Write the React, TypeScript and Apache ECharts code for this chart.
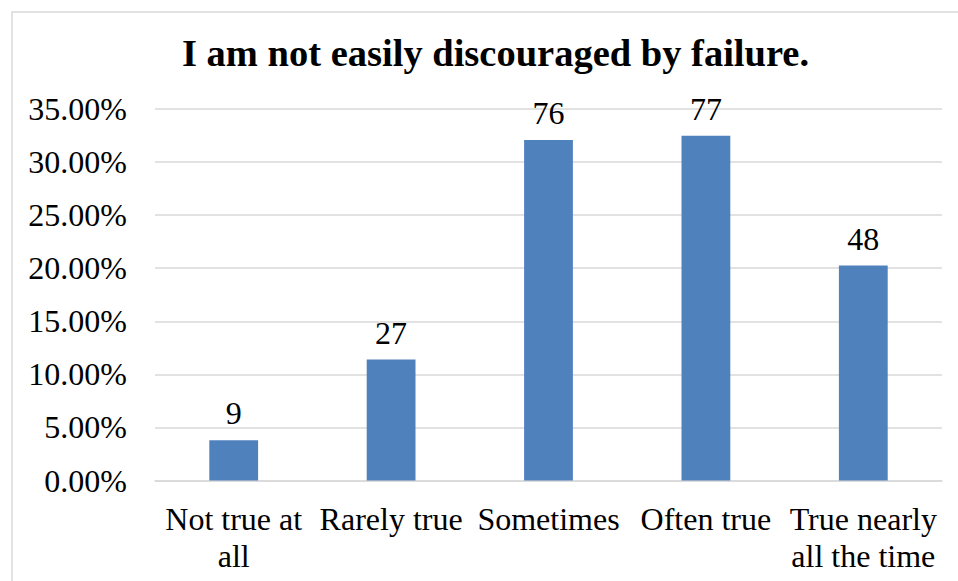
import React, { useEffect, useRef } from "react";
import * as echarts from "echarts";

const title = "I am not easily discouraged by failure.";
const categories = ["Not true at all", "Rarely true", "Sometimes", "Often true", "True nearly all the time"];
const tickLabels = ["Not true at\nall", "Rarely true", "Sometimes", "Often true", "True nearly\nall the time"];
const counts = [9, 27, 76, 77, 48];
const percents = [3.8, 11.39, 32.07, 32.49, 20.25];

const FONT = '"Liberation Serif", "Times New Roman", serif';

export default function App() {
  const ref = useRef<HTMLDivElement>(null);
  useEffect(() => {
    if (!ref.current) return;
    const chart = echarts.init(ref.current, undefined, { renderer: "svg" });
    chart.setOption({
      animation: false,
      backgroundColor: "#ffffff",
      graphic: [
        {
          type: "rect",
          shape: { x: 12, y: 12, width: 980, height: 620 },
          style: { fill: "none", stroke: "#d9d9d9", lineWidth: 1.5 },
          silent: true,
        },
      ],
      title: {
        text: title,
        left: 177,
        top: 28,
        textStyle: { fontFamily: FONT, fontSize: 38.5, fontWeight: "bold", color: "#000" },
      },
      grid: { left: 155, right: 16, top: 109, bottom: 100.5 },
      xAxis: {
        type: "category",
        data: categories,
        axisLine: { show: true, lineStyle: { color: "#d9d9d9", width: 1.5 } },
        axisTick: { show: false },
        axisLabel: {
          interval: 0,
          margin: 20,
          fontFamily: FONT,
          fontSize: 32,
          color: "#000",
          lineHeight: 37,
          formatter: (_v: string, i: number) => tickLabels[i],
        },
      },
      yAxis: {
        type: "value",
        min: 0,
        max: 35,
        interval: 5,
        axisLine: { show: false },
        axisTick: { show: false },
        splitLine: { lineStyle: { color: "#d9d9d9", width: 1.5 } },
        axisLabel: {
          margin: 28,
          fontFamily: FONT,
          fontSize: 32,
          color: "#000",
          formatter: (v: number) => v.toFixed(2) + "%",
        },
      },
      series: [
        {
          type: "bar",
          data: percents,
          barWidth: "31%",
          itemStyle: { color: "#4f81bd" },
          label: {
            show: true,
            position: "top",
            distance: 11,
            fontFamily: FONT,
            fontSize: 32,
            color: "#000",
            formatter: (p: any) => String(counts[p.dataIndex]),
          },
        },
      ],
    });
    return () => chart.dispose();
  }, []);
  return <div ref={ref} style={{ width: 958, height: 581, position: "absolute", left: 0, top: 0 }} />;
}
